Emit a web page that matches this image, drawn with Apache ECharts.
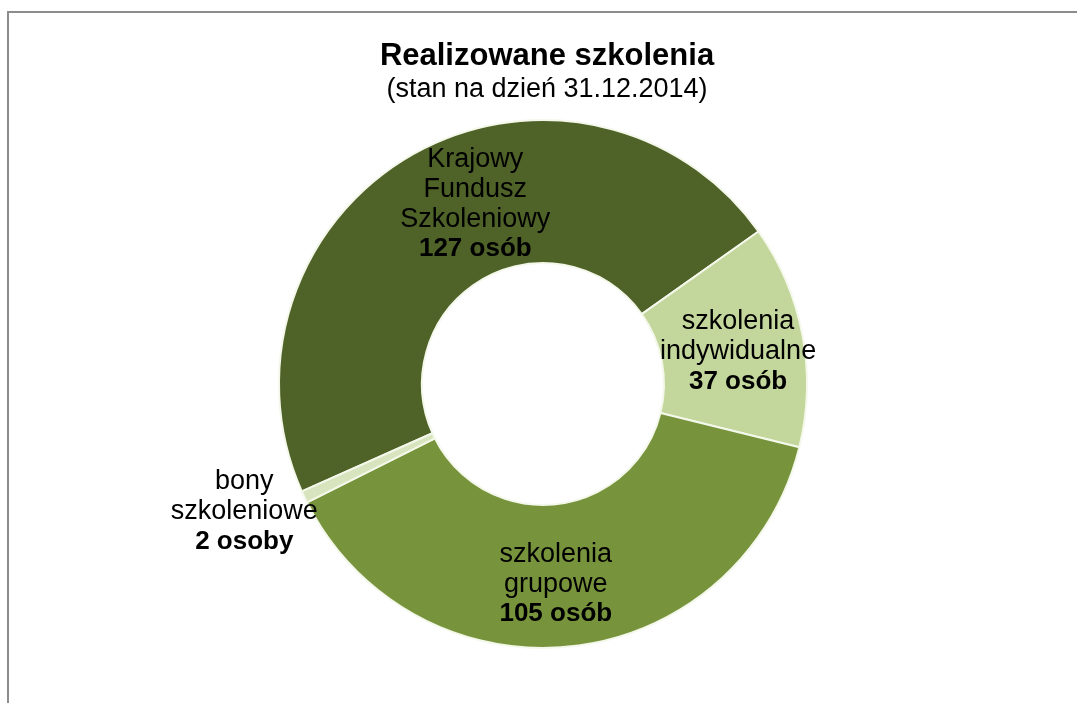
<!DOCTYPE html>
<html lang="pl">
  <head>
    <meta charset="UTF-8" />
    <title>Realizowane szkolenia</title>
    <script src="https://cdn.jsdelivr.net/npm/echarts@6/dist/echarts.min.js"></script>
    <style>
      html, body { margin: 0; padding: 0; background: #fff; }
    </style>
  </head>
  <body>
    <div id="chart" style="width: 1077px; height: 703px"></div>
  </body>
  <script>
    // dane
    const categories = [
      ['Krajowy', 'Fundusz', 'Szkoleniowy'],
      ['szkolenia', 'indywidualne'],
      ['szkolenia', 'grupowe'],
      ['bony', 'szkoleniowe']
    ]
    const values = [127, 37, 105, 2]
    const units = ['osób', 'osób', 'osób', 'osoby']

    const colors = ['#4f6228', '#c3d69b', '#77933c', '#d7e4bd']
    // przesunięcia etykiet względem środka wycinka
    const labelShift = [
      [29, -10],
      [3, 4],
      [-9, 6],
      [-122, 44]
    ]

    const FONT = "'Liberation Sans', Arial, sans-serif"

    const chart = echarts.init(document.getElementById('chart'))

    const pieData = values.map((v, i) => ({
      name: categories[i].join(' '),
      value: v,
      itemStyle: { color: colors[i] },
      label: {
        formatter: categories[i].map(t => '{n|' + t + '}').join('\n') + '\n{b|' + v + ' ' + units[i] + '}'
      }
    }))

    const option = {
      animation: false,
      title: {
        text: 'Realizowane szkolenia',
        subtext: '(stan na dzień 31.12.2014)',
        left: 542,
        top: 36,
        textAlign: 'center',
        itemGap: 4,
        textStyle: {
          fontFamily: FONT,
          fontSize: 31,
          lineHeight: 31,
          fontWeight: 'bold',
          color: '#000'
        },
        subtextStyle: {
          fontFamily: FONT,
          fontSize: 27,
          lineHeight: 27,
          color: '#000'
        }
      },
      graphic: [
        {
          type: 'rect',
          shape: { x: 8, y: 12, width: 1200, height: 800 },
          style: { fill: 'none', stroke: '#8c8c8c', lineWidth: 2 },
          silent: true
        }
      ],
      series: [
        {
          type: 'pie',
          center: [543, 384],
          radius: [121, 264],
          startAngle: 204,
          clockwise: true,
          minAngle: 0,
          avoidLabelOverlap: false,
          itemStyle: {
            borderColor: '#f4f8ea',
            borderWidth: 2
          },
          label: {
            show: true,
            position: 'inside',
            color: '#000',
            fontFamily: FONT,
            rich: {
              n: { fontFamily: FONT, fontSize: 27, lineHeight: 30, color: '#000', align: 'center' },
              b: { fontFamily: FONT, fontSize: 26, lineHeight: 30, color: '#000', fontWeight: 'bold', align: 'center' }
            }
          },
          labelLine: { show: false },
          labelLayout: params => ({
            dx: labelShift[params.dataIndex][0],
            dy: labelShift[params.dataIndex][1]
          }),
          data: pieData
        }
      ]
    }

    chart.setOption(option)
  </script>
</html>
